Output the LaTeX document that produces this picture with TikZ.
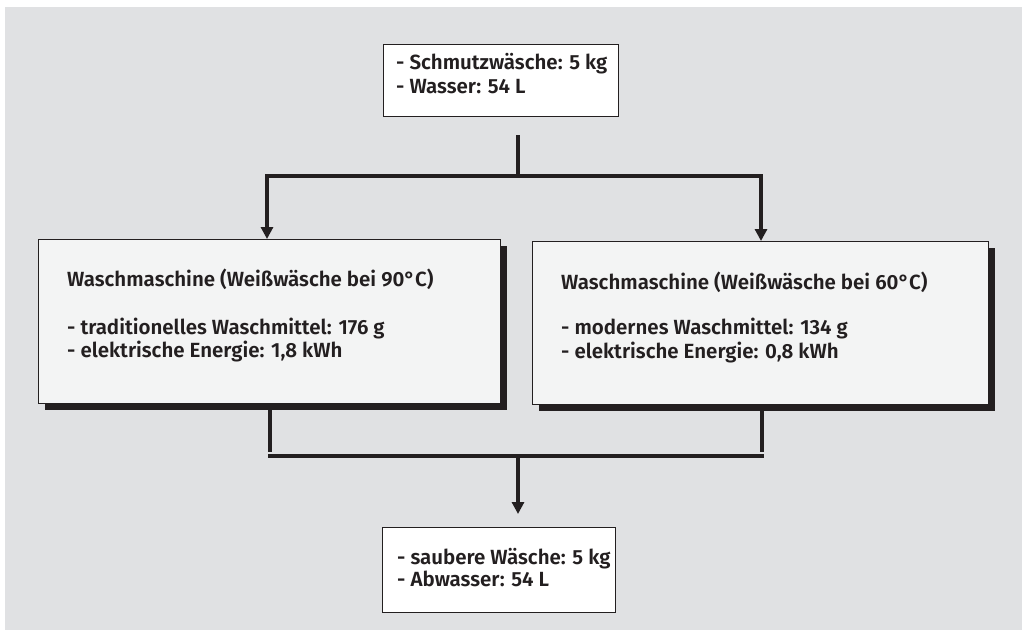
\documentclass[tikz,border=0pt]{standalone}
\usepackage{fontspec}
\setmainfont{Fira Sans}[BoldFont={Fira Sans SemiBold}]
\usetikzlibrary{arrows.meta,shadows}
\definecolor{bgc}{RGB}{224,225,227}
\definecolor{ink}{RGB}{35,31,32}
\definecolor{boxc}{RGB}{243,244,244}
\tikzset{
  px/.style={x=1pt,y=-1pt},
  plainbox/.style={draw=ink,line width=1.3pt,fill=white,rectangle,inner sep=0pt,anchor=north west},
  machbox/.style={draw=ink,line width=1.3pt,fill=boxc,rectangle,inner sep=0pt,anchor=north west,
     drop shadow={shadow xshift=6pt,shadow yshift=-6pt,fill=ink,opacity=1}},
  txt/.style={anchor=base west,inner sep=0pt,text=ink,font=\fontsize{20.5}{24}\selectfont\bfseries},
  flow/.style={draw=ink,line width=4pt},
  arr/.style={flow,-{Triangle[width=12pt,length=12pt]}}
}
\begin{document}
\begin{tikzpicture}[px]
\useasboundingbox (0,0) rectangle (1022,630);
\fill[white] (0,0) rectangle (1022,630);
\fill[bgc] (5,7) rectangle (1022,630);
% boxes
\node[plainbox,minimum width=235pt,minimum height=72pt] (top) at (383,44) {};
\node[machbox,minimum width=462pt,minimum height=164pt] (L) at (38,239) {};
\node[machbox,minimum width=456pt,minimum height=163pt] (R) at (532,241) {};
\node[plainbox,minimum width=233pt,minimum height=85pt] (bot) at (382,527) {};
% texts
\node[txt] (t1) at (396,69) {- Schmutzwäsche: 5 kg};
\node[txt] (t2) at (396,93) {- Wasser: 54 L};
\node[txt] (l1) at (67,286) {Waschmaschine (Weißwäsche bei 90°C)};
\node[txt] (l2) at (67,334) {- traditionelles Waschmittel: 176 g};
\node[txt] (l3) at (67,357) {- elektrische Energie: 1,8 kWh};
\node[txt] (r1) at (561,289) {Waschmaschine (Weißwäsche bei 60°C)};
\node[txt] (r2) at (561,334) {- modernes Waschmittel: 134 g};
\node[txt] (r3) at (561,358) {- elektrische Energie: 0,8 kWh};
\node[txt] (b1) at (397,564) {- saubere Wäsche: 5 kg};
\node[txt] (b2) at (397,586) {- Abwasser: 54 L};
% connectors
\coordinate (hubtop) at (518,176);
\coordinate (stem) at (518,135);
\coordinate (Lb) at (270,452);
\coordinate (Rb) at (762,452);
\coordinate (hubbot) at (518,456);
\draw[flow] (stem) -- (hubtop);
\draw[flow] (265,176) -- (763,176);
\draw[arr] (267,176) -- (L.north -| 267,0);
\draw[arr] (761,176) -- (R.north -| 761,0);
\draw[flow] (270,409) -- (Lb);
\draw[flow] (762,410) -- (Rb);
\draw[flow] (268,456) -- (764,456);
\draw[arr,shorten >=13pt] (hubbot) -- (bot.north -| hubbot);
\end{tikzpicture}
\end{document}
